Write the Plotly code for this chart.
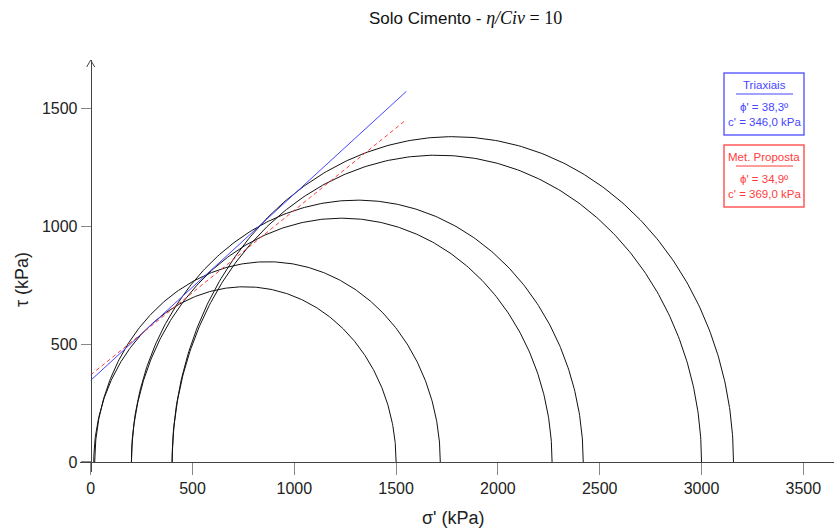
import numpy as np
import plotly.graph_objects as go

# ---- data ----
sigma3 = [15, 20, 200, 200, 400, 400]          # kPa, left end of each Mohr circle
sigma1 = [1500, 1717, 2266, 2419, 3000, 3157]  # kPa, right end of each Mohr circle

env_names = ["Triaxiais", "Met. Proposta"]
env_phi = [38.3, 34.9]      # degrees
env_c = [346.0, 369.0]      # kPa
env_sigma_end = [1550, 1550]
env_colors = ["rgb(70,70,255)", "rgb(255,60,60)"]
env_dash = ["solid", "dash"]

x_ticks = [0, 500, 1000, 1500, 2000, 2500, 3000, 3500]
y_ticks = [0, 500, 1000, 1500]

# ---- layout geometry ----
W, H = 834, 532
ML, MR, MT, MB = 80, 0, 60, 60
PW, PH = W - ML - MR, H - MT - MB
XMIN, XMAX = -52.6, 3650.7
YMIN, YMAX = -42.4, 1703.4


def px(x):
    return (x - ML) / PW


def py(y):
    return (H - MB - y) / PH


fig = go.Figure()

# Mohr circles (upper halves)
theta = np.linspace(0, np.pi, 300)
for s3, s1 in zip(sigma3, sigma1):
    c = (s1 + s3) / 2
    r = (s1 - s3) / 2
    fig.add_trace(go.Scatter(x=c + r * np.cos(theta), y=r * np.sin(theta),
                             mode="lines", line=dict(color="#111", width=1),
                             hoverinfo="skip", showlegend=False))

# failure envelopes
for name, phi, c, s_end, col, dash in zip(env_names, env_phi, env_c, env_sigma_end, env_colors, env_dash):
    xs = np.array([0, s_end])
    fig.add_trace(go.Scatter(x=xs, y=c + xs * np.tan(np.radians(phi)), mode="lines",
                             line=dict(color=col, width=1, dash=dash if dash == "solid" else "4px,3px"),
                             name=name, showlegend=False))

axis_common = dict(showgrid=False, zeroline=False, showline=True, linecolor="#444",
                   linewidth=1, ticks="outside", tickcolor="#888", tickwidth=1,
                   tickfont=dict(family="Liberation Sans, Arial", size=16, color="#222"))

fig.update_layout(
    width=W, height=H,
    margin=dict(l=ML, r=MR, t=MT, b=MB),
    paper_bgcolor="white", plot_bgcolor="white",
    xaxis=dict(range=[XMIN, XMAX], tickvals=x_ticks, ticklen=12, anchor="free",
               position=(0 - YMIN) / (YMAX - YMIN), **axis_common),
    yaxis=dict(range=[YMIN, YMAX], tickvals=y_ticks, ticklen=10, anchor="free",
               position=(0 - XMIN) / (XMAX - XMIN), **axis_common),
)

# arrow head at top of y-axis
fig.add_shape(type="path", xref="x", yref="y", xsizemode="pixel", ysizemode="pixel",
              xanchor=0, yanchor=YMAX, path="M -4,-7 L 0,0 L 4,-7",
              line=dict(color="#444", width=1))

ann = []
# title
ann.append(dict(xref="paper", yref="paper", x=px(465), y=py(18), xanchor="center", yanchor="middle",
                showarrow=False,
                text="Solo Cimento - <span style='font-family:Liberation Serif;font-size:18px'><i>η/Civ</i> = 10</span>",
                font=dict(family="Liberation Sans, Arial", size=17, color="#111")))
# axis titles
ann.append(dict(xref="paper", yref="paper", x=px(453), y=py(518), xanchor="center", yanchor="middle",
                showarrow=False, text="σ' (kPa)",
                font=dict(family="Liberation Sans, Arial", size=18, color="#222")))
ann.append(dict(xref="paper", yref="paper", x=px(22), y=py(280), xanchor="center", yanchor="middle",
                showarrow=False, text="τ (kPa)", textangle=-90,
                font=dict(family="Liberation Sans, Arial", size=18, color="#222")))

# legend boxes
box_tops = [73, 145]
box_borders = ["rgb(100,100,255)", "rgb(255,90,90)"]
for name, phi, c, col, bcol, top in zip(env_names, env_phi, env_c, env_colors, box_borders, box_tops):
    fig.add_shape(type="rect", xref="paper", yref="paper", x0=px(724), x1=px(804),
                  y0=py(top), y1=py(top + 62), line=dict(color=bcol, width=1.5), fillcolor="white")
    fig.add_shape(type="line", xref="paper", yref="paper", x0=px(736), x1=px(793),
                  y0=py(top + 21), y1=py(top + 21), line=dict(color=col, width=1))
    lines = [name, f"ϕ' = {phi:.1f}º".replace(".", ","), f"c' = {c:.1f} kPa".replace(".", ",")]
    offs = [12, 34, 49]
    for t, o in zip(lines, offs):
        ann.append(dict(xref="paper", yref="paper", x=px(764), y=py(top + o), xanchor="center",
                        yanchor="middle", showarrow=False, text=t,
                        font=dict(family="Liberation Sans, Arial", size=11.5, color=col)))

fig.update_layout(annotations=ann)
fig.write_html("out.html")
